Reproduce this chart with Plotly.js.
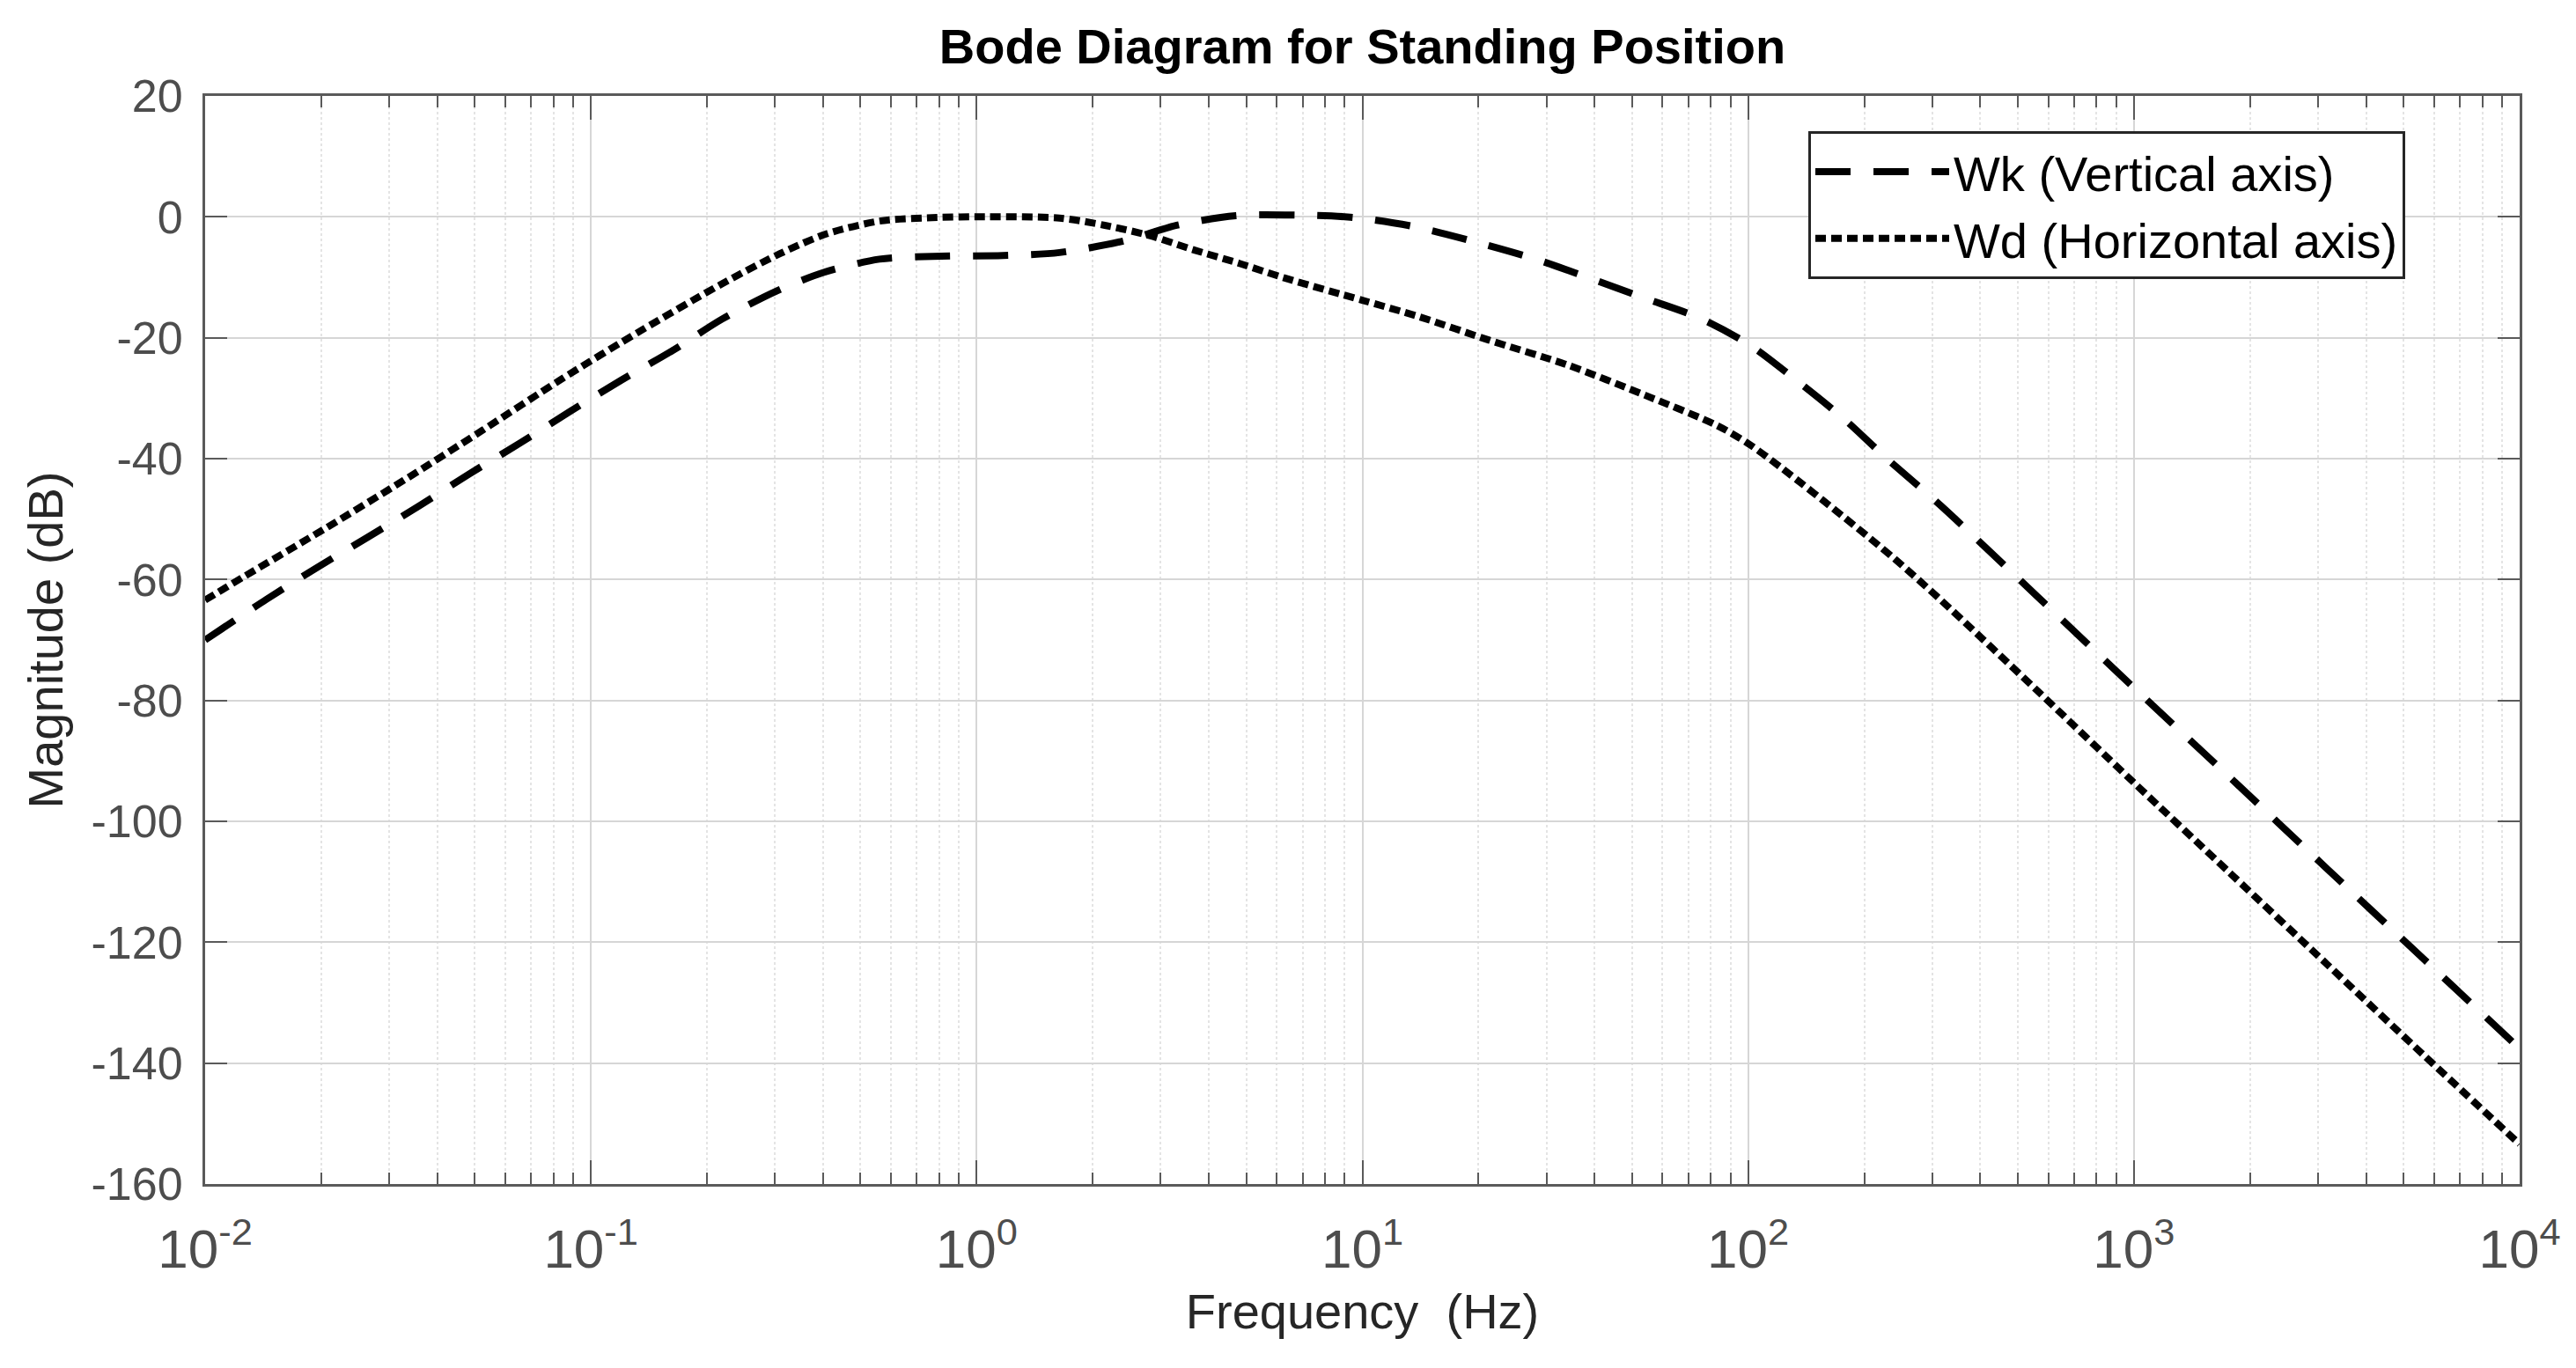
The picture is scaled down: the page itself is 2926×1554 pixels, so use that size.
<!DOCTYPE html>
<html>
<head>
<meta charset="utf-8">
<script src="https://cdn.plot.ly/plotly-3.0.1.min.js"></script>
<style>
  html, body { margin: 0; padding: 0; background: #ffffff; }
  #chart { width: 2926px; height: 1554px; }
</style>
</head>
<body>
<div id="chart"></div>
<script>
// Frequency (Hz) and magnitude (dB)
const wkFreq = [0.01, 0.0144, 0.0194, 0.0264, 0.0359, 0.0482, 0.0656, 0.0883, 0.12, 0.163,
                0.219, 0.302, 0.401, 0.56, 0.81, 1.17, 1.64, 2.4, 3.3, 4.7,
                6.7, 9.5, 13.6, 19, 27.5, 38.7, 53.7, 74.6, 101, 135,
                177, 229, 316, 562, 1000, 1778, 3162, 5623, 10000];
const wkMag  = [-70.0, -63.3, -58.1, -53.0, -47.8, -42.6, -37.4, -32.2, -27.0, -22.1,
                -16.9, -12.3, -9.2, -7.0, -6.5, -6.4, -5.9, -4.0, -1.4, 0.2,
                0.3, -0.1, -1.6, -3.9, -6.8, -10.1, -13.4, -16.7, -21.2, -27.3,
                -33.4, -40.0, -47.8, -62.8, -77.9, -92.8, -107.8, -122.7, -137.6];

const wdFreq = [0.01, 0.0127, 0.0203, 0.0327, 0.0524, 0.0841, 0.135, 0.217, 0.309, 0.409,
                0.56, 0.79, 1, 1.64, 2.15, 2.81, 3.67, 4.8, 6.27, 10,
                14, 21.3, 34, 54, 83, 100, 123, 175, 239, 316,
                562, 1000, 1778, 3162, 5623, 10000];
const wdMag  = [-63.4, -59.4, -51.7, -43.6, -35.3, -26.8, -18.8, -11.2, -6.1, -2.8,
                -0.7, -0.1, 0.0, -0.2, -1.4, -3.1, -5.5, -7.7, -10.1, -13.8,
                -16.5, -20.4, -24.5, -29.5, -34.5, -37.5, -41.7, -49.4, -56.5, -63.4,
                -78.4, -93.6, -108.6, -123.6, -138.6, -153.4];

const seriesNames = ['Wk (Vertical axis)', 'Wd (Horizontal axis)'];
const xTickVals = [0.01, 0.1, 1, 10, 100, 1000, 10000];
const xTickText = ['10<sup>-2</sup>', '10<sup>-1</sup>', '10<sup>0</sup>', '10<sup>1</sup>',
                   '10<sup>2</sup>', '10<sup>3</sup>', '10<sup>4</sup>'];
const yTickVals = [-160, -140, -120, -100, -80, -60, -40, -20, 0, 20];
const yTickText = ['-160', '-140', '-120', '-100', '-80', '-60', '-40', '-20', '0', '20'];

const FONT = 'Liberation Sans, Arial, Helvetica, sans-serif';
const AXC = '#5a5a5a';

const traces = [
  { x: wkFreq, y: wkMag, name: seriesNames[0], type: 'scatter', mode: 'lines',
    line: { color: '#000000', width: 8, dash: '40px,26px', shape: 'spline', smoothing: 0.8 } },
  { x: wdFreq, y: wdMag, name: seriesNames[1], type: 'scatter', mode: 'lines',
    line: { color: '#000000', width: 8, dash: '12px,6px', shape: 'spline', smoothing: 0.8 } }
];

const layout = {
  width: 2926, height: 1554,
  margin: { l: 233, r: 64, t: 109, b: 209 },
  paper_bgcolor: '#ffffff', plot_bgcolor: '#ffffff',
  font: { family: FONT, color: '#404040' },
  showlegend: true,
  title: {
    text: 'Bode Diagram for Standing Position',
    font: { family: FONT, size: 56, color: '#000000', weight: 'bold' },
    x: 0.5, xref: 'paper', xanchor: 'center',
    y: 1 - 52 / 1554, yref: 'container', yanchor: 'middle'
  },
  xaxis: {
    type: 'log', range: [-2, 4],
    tickmode: 'array', tickvals: xTickVals, ticktext: xTickText,
    showline: true, linecolor: AXC, linewidth: 3, mirror: 'allticks',
    ticks: 'inside', ticklen: 27, tickwidth: 2, tickcolor: AXC,
    showgrid: true, gridcolor: '#d6d6d6', gridwidth: 2,
    tickfont: { family: FONT, size: 62, color: '#4d4d4d' },
    ticklabelstandoff: 18,
    minor: { dtick: 'D1', ticks: 'inside', ticklen: 13, tickwidth: 2, tickcolor: AXC,
             showgrid: true, gridcolor: '#e4e4e4', gridwidth: 2, griddash: 'dot' },
    zeroline: false,
    title: { text: 'Frequency \u00a0(Hz)', font: { family: FONT, size: 56, color: '#262626' }, standoff: 18 },
    automargin: false
  },
  yaxis: {
    range: [-160, 20],
    tickmode: 'array', tickvals: yTickVals, ticktext: yTickText,
    showline: true, linecolor: AXC, linewidth: 3, mirror: 'allticks',
    ticks: 'inside', ticklen: 25, tickwidth: 2, tickcolor: AXC,
    showgrid: true, gridcolor: '#d6d6d6', gridwidth: 2,
    tickfont: { family: FONT, size: 52, color: '#4d4d4d' },
    ticklabelstandoff: 12,
    zeroline: false,
    title: { text: 'Magnitude (dB)', font: { family: FONT, size: 56, color: '#262626' }, standoff: 14 },
    automargin: false
  },
  legend: {
    x: (2054 - 233) / (2862 - 233), y: (1345 - 149) / (1345 - 109),
    xanchor: 'left', yanchor: 'top',
    bgcolor: '#ffffff', bordercolor: '#262626', borderwidth: 3,
    font: { family: FONT, size: 56, color: '#000000' },
    itemwidth: 152, tracegroupgap: 0
  }
};

Plotly.newPlot('chart', traces, layout, { displayModeBar: false, staticPlot: true });
</script>
</body>
</html>
